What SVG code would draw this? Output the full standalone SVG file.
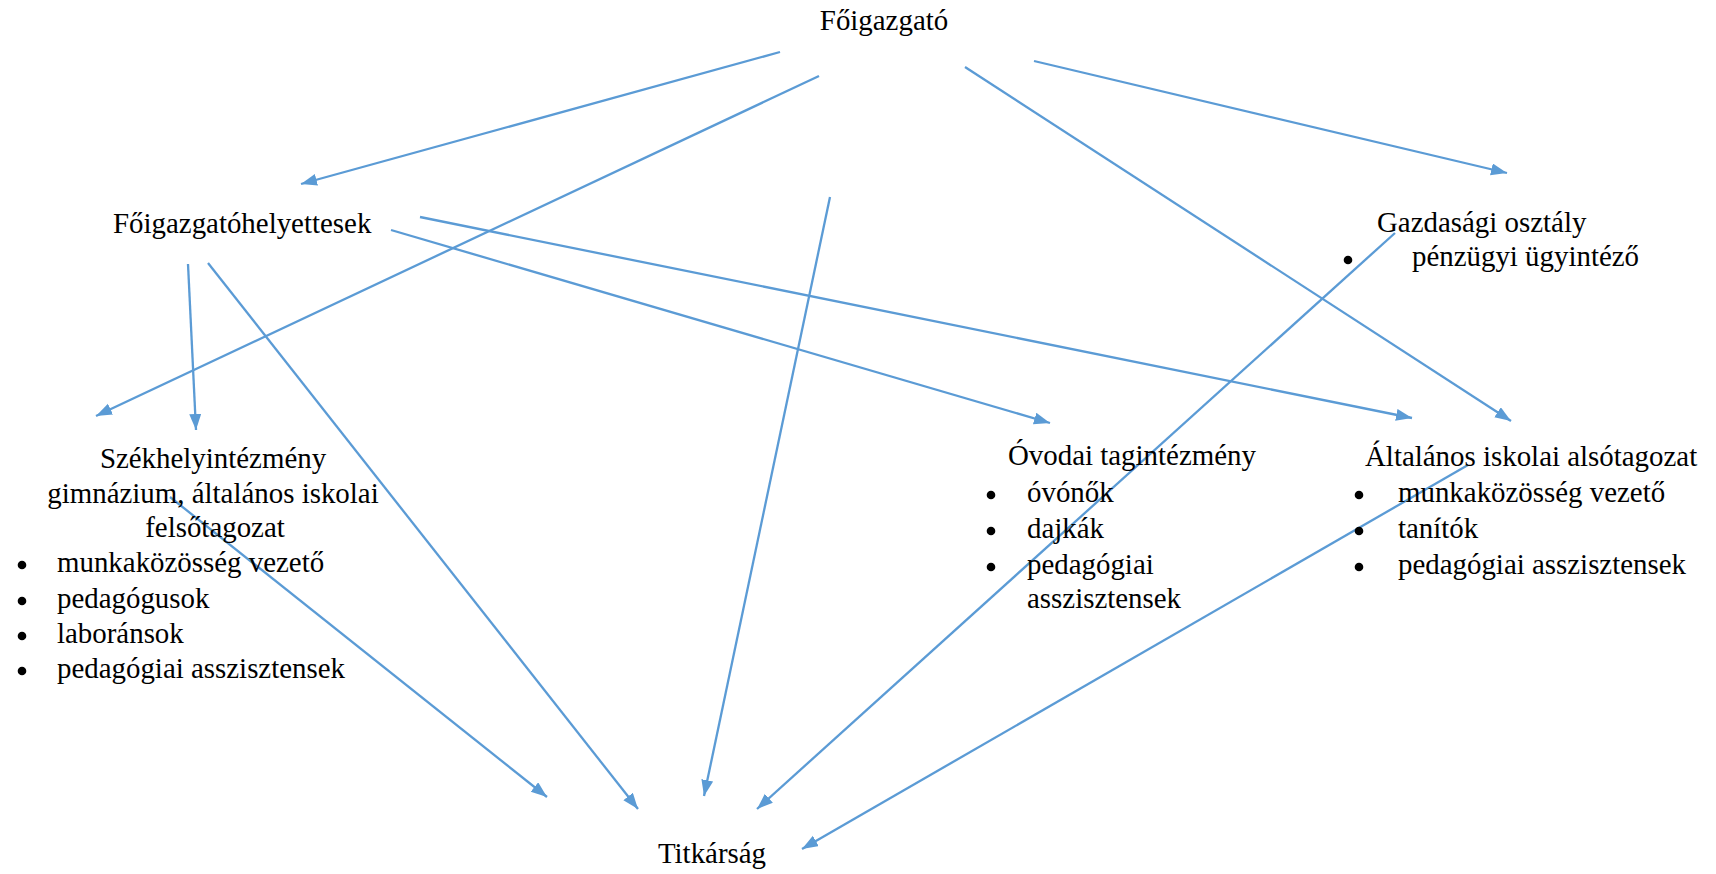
<svg xmlns="http://www.w3.org/2000/svg" width="1716" height="874" viewBox="0 0 1716 874">
<style>
text{font-family:"Liberation Serif","Times New Roman",serif;font-size:28.9px;fill:#000}
.c{text-anchor:middle}
.e{fill:none;stroke:#5B9BD5;stroke-width:2.3;marker-end:url(#ah)}
.b{fill:#000}
</style>
<defs>
<marker id="ah" markerUnits="userSpaceOnUse" markerWidth="18" markerHeight="14" refX="16" refY="6" orient="auto">
<path d="M0,0 L16,6 L0,12 z" fill="#5B9BD5"/>
</marker>
</defs>
<rect width="1716" height="874" fill="#fff"/>
<g id="connectors">
<line class="e" x1="780" y1="52" x2="301" y2="184"/>
<line class="e" x1="819" y1="76" x2="96" y2="416"/>
<line class="e" x1="965" y1="67" x2="1511" y2="421"/>
<line class="e" x1="1034" y1="61" x2="1507" y2="173"/>
<line class="e" x1="830" y1="197" x2="704" y2="796"/>
<line class="e" x1="420" y1="217" x2="1412" y2="418"/>
<line class="e" x1="391" y1="230" x2="1050" y2="423"/>
<line class="e" x1="188" y1="264" x2="196" y2="430"/>
<line class="e" x1="208" y1="263" x2="638" y2="809"/>
<line class="e" x1="170" y1="497" x2="547" y2="797"/>
<line class="e" x1="1395" y1="233" x2="757" y2="809"/>
<line class="e" x1="1468" y1="465" x2="802" y2="849"/>
</g>
<g id="foigazgato"><text class="c" x="884" y="30">Főigazgató</text></g>
<g id="helyettesek"><text x="113" y="233">Főigazgatóhelyettesek</text></g>
<g id="gazdasagi">
<text x="1377" y="232">Gazdasági osztály</text>
<circle class="b" cx="1348" cy="260" r="4.3"/>
<text x="1412" y="266">pénzügyi ügyintéző</text>
</g>
<g id="szekhely">
<text class="c" x="213" y="468">Székhelyintézmény</text>
<text class="c" x="213" y="503">gimnázium, általános iskolai</text>
<text class="c" x="215" y="537">felsőtagozat</text>
<circle class="b" cx="22" cy="565" r="4.3"/>
<text x="57" y="572">munkaközösség vezető</text>
<circle class="b" cx="22" cy="601" r="4.3"/>
<text x="57" y="608">pedagógusok</text>
<circle class="b" cx="22" cy="636" r="4.3"/>
<text x="57" y="643">laboránsok</text>
<circle class="b" cx="22" cy="671" r="4.3"/>
<text x="57" y="678">pedagógiai asszisztensek</text>
</g>
<g id="ovodai">
<text x="1008" y="465">Óvodai tagintézmény</text>
<circle class="b" cx="991" cy="495" r="4.3"/>
<text x="1027" y="502">óvónők</text>
<circle class="b" cx="991" cy="531" r="4.3"/>
<text x="1027" y="538">dajkák</text>
<circle class="b" cx="991" cy="567" r="4.3"/>
<text x="1027" y="574">pedagógiai</text>
<text x="1027" y="608">asszisztensek</text>
</g>
<g id="altalanos">
<text x="1365" y="466">Általános iskolai alsótagozat</text>
<circle class="b" cx="1359" cy="495" r="4.3"/>
<text x="1398" y="502">munkaközösség vezető</text>
<circle class="b" cx="1359" cy="531" r="4.3"/>
<text x="1398" y="538">tanítók</text>
<circle class="b" cx="1359" cy="567" r="4.3"/>
<text x="1398" y="574">pedagógiai asszisztensek</text>
</g>
<g id="titkarsag"><text class="c" x="712" y="863">Titkárság</text></g>
</svg>
